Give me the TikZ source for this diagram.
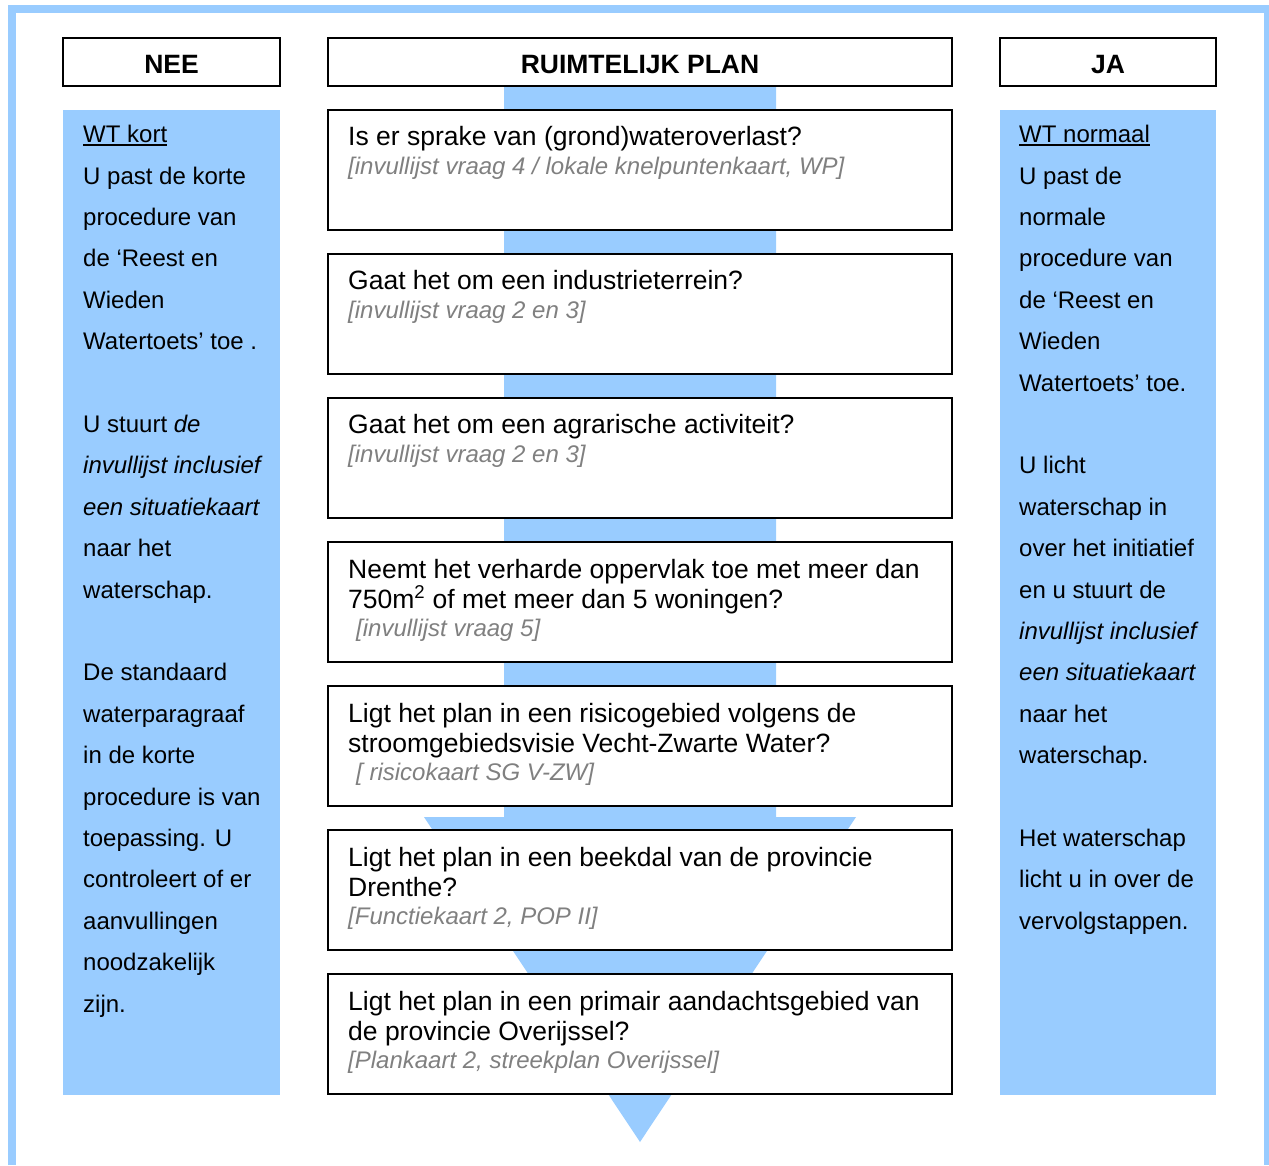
\documentclass[tikz,border=0pt]{standalone}
\usepackage{fontspec}
\setmainfont{Liberation Sans}
\definecolor{lblue}{HTML}{99CCFF}
\definecolor{reftxt}{HTML}{808080}
\newcommand\myul[1]{{\setbox0\hbox{#1}\rlap{\rule[-3.2pt]{\wd0}{1.8pt}}\box0}}
\begin{document}
\begin{tikzpicture}[x=1pt,y=-1pt,
  hdr/.style={draw=black,line width=2pt,fill=white,minimum height=48pt,inner sep=0pt,font=\fontsize{26.5}{30}\selectfont\bfseries},
  hdrtxt/.style={inner sep=0pt,font=\fontsize{26.5}{30}\selectfont\bfseries},
  qbox/.style={draw=black,line width=2pt,fill=white,minimum width=624pt,minimum height=120pt,inner sep=0pt},
  qtxt/.style={anchor=base west,inner sep=0pt,font=\fontsize{26.5}{30}\selectfont},
  rtxt/.style={anchor=base west,inner sep=0pt,font=\fontsize{24}{28}\selectfont\itshape,text=reftxt},
  stxt/.style={anchor=base west,inner sep=0pt,font=\fontsize{24}{28}\selectfont},
  panel/.style={fill=lblue,draw=none,inner sep=0pt,anchor=north west,minimum height=985pt}]
\useasboundingbox (0,0) rectangle (1269,1165);
% outer frame
\draw[lblue,line width=8pt] (12,1165) -- (12,9) -- (1268,9) -- (1268,1165);
% side panels
\node[panel,minimum width=217pt] (neep) at (63,110) {};
\node[panel,minimum width=216pt] (jap) at (1000,110) {};
% block arrow
\fill[lblue] (504,86) -- (776,86) -- (776,817) -- (856,817) -- (640,1142) -- (424,817) -- (504,817) -- cycle;
% headers
\node[hdr,minimum width=217pt] (nee) at (171.5,62) {};
\node[hdr,minimum width=624pt] (plan) at (640,62) {};
\node[hdr,minimum width=216pt] (ja) at (1108,62) {};
\node[hdrtxt] (neet) at ([yshift=-2.5pt]nee.center) {NEE};
\node[hdrtxt] (plant) at ([yshift=-2.5pt]plan.center) {RUIMTELIJK PLAN};
\node[hdrtxt] (jat) at ([yshift=-2.5pt]ja.center) {JA};
% question boxes
\node[qbox] (q1) at (640,170) {};
\node[qtxt] (q1a) at ([xshift=21pt,yshift=-36.5pt]q1.north west) {Is er sprake van (grond)wateroverlast?};
\node[rtxt] (q1r) at ([xshift=21pt,yshift=-65pt]q1.north west) {[invullijst vraag 4 / lokale knelpuntenkaart, WP]};
\node[qbox] (q2) at (640,314) {};
\node[qtxt] (q2a) at ([xshift=21pt,yshift=-36.5pt]q2.north west) {Gaat het om een industrieterrein?};
\node[rtxt] (q2r) at ([xshift=21pt,yshift=-65pt]q2.north west) {[invullijst vraag 2 en 3]};
\node[qbox] (q3) at (640,458) {};
\node[qtxt] (q3a) at ([xshift=21pt,yshift=-36.5pt]q3.north west) {Gaat het om een agrarische activiteit?};
\node[rtxt] (q3r) at ([xshift=21pt,yshift=-65pt]q3.north west) {[invullijst vraag 2 en 3]};
\node[qbox] (q4) at (640,602) {};
\node[qtxt] (q4a) at ([xshift=21pt,yshift=-37pt]q4.north west) {Neemt het verharde oppervlak toe met meer dan};
\node[qtxt] (q4b) at ([xshift=21pt,yshift=-67pt]q4.north west) {750m\textsuperscript{2} of met meer dan 5 woningen?};
\node[rtxt] (q4r) at ([xshift=29pt,yshift=-95pt]q4.north west) {[invullijst vraag 5]};
\node[qbox] (q5) at (640,746) {};
\node[qtxt] (q5a) at ([xshift=21pt,yshift=-37pt]q5.north west) {Ligt het plan in een risicogebied volgens de};
\node[qtxt] (q5b) at ([xshift=21pt,yshift=-67pt]q5.north west) {stroomgebiedsvisie Vecht-Zwarte Water?};
\node[rtxt] (q5r) at ([xshift=29pt,yshift=-95pt]q5.north west) {[ risicokaart SG V-ZW]};
\node[qbox] (q6) at (640,890) {};
\node[qtxt] (q6a) at ([xshift=21pt,yshift=-37pt]q6.north west) {Ligt het plan in een beekdal van de provincie};
\node[qtxt] (q6b) at ([xshift=21pt,yshift=-67pt]q6.north west) {Drenthe?};
\node[rtxt] (q6r) at ([xshift=21pt,yshift=-95pt]q6.north west) {[Functiekaart 2, POP II]};
\node[qbox] (q7) at (640,1034) {};
\node[qtxt] (q7a) at ([xshift=21pt,yshift=-37pt]q7.north west) {Ligt het plan in een primair aandachtsgebied van};
\node[qtxt] (q7b) at ([xshift=21pt,yshift=-67pt]q7.north west) {de provincie Overijssel?};
\node[rtxt] (q7r) at ([xshift=21pt,yshift=-95pt]q7.north west) {[Plankaart 2, streekplan Overijssel]};
% left panel text
\foreach \k/\t in {0/{\myul{WT kort}},1/{U past de korte},2/{procedure van},3/{de ‘Reest en},4/{Wieden},5/{Watertoets’ toe .},
  7/{U stuurt \textit{de}},8/{\textit{invullijst inclusief}},9/{\textit{een situatiekaart}},10/{naar het},11/{waterschap.},
  13/{De standaard},14/{waterparagraaf},15/{in de korte},16/{procedure is van},17/{toepassing. U},18/{controleert of er},19/{aanvullingen},20/{noodzakelijk},21/{zijn.}}
  \node[stxt] (nl\k) at (83,142.7+41.4*\k) {\t};
% right panel text
\foreach \k/\t in {0/{\myul{WT normaal}},1/{U past de},2/{normale},3/{procedure van},4/{de ‘Reest en},5/{Wieden},6/{Watertoets’ toe.},
  8/{U licht},9/{waterschap in},10/{over het initiatief},11/{en u stuurt de},12/{\textit{invullijst inclusief}},13/{\textit{een situatiekaart}},14/{naar het},15/{waterschap.},
  17/{Het waterschap},18/{licht u in over de},19/{vervolgstappen.}}
  \node[stxt] (jl\k) at (1019,142.7+41.4*\k) {\t};
\end{tikzpicture}
\end{document}
